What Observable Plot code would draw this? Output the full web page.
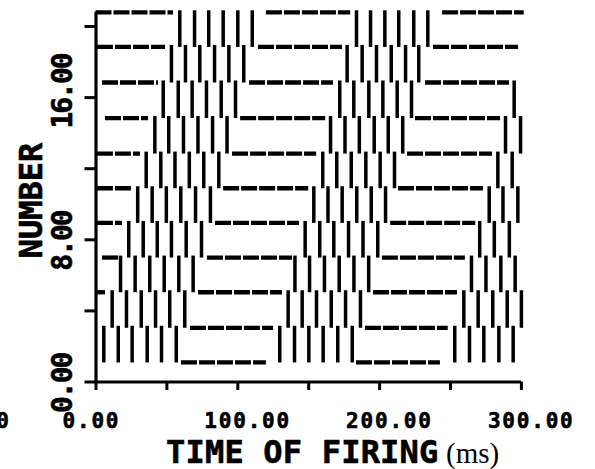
<!DOCTYPE html>
<html><head><meta charset="utf-8">
<script src="https://cdn.jsdelivr.net/npm/d3@7"></script>
<script src="https://cdn.jsdelivr.net/npm/@observablehq/plot@0.6"></script>
<style>
html,body{margin:0;padding:0;background:#fff;}
svg{overflow:visible}
</style></head><body><div id="chart"></div>
<script>
// level values (y) of the 11 horizontal baselines, top to bottom
const levels = [20.8, 18.85, 16.85, 14.85, 12.85, 10.9, 8.95, 7.0, 5.05, 3.05, 1.1];

// spike times (ms) per row, top row first
const spikesRow1 = [59.1, 69.5, 79.5, 89.7, 100, 110.2, 183.7, 193.6, 203.7, 213.5, 224.1, 234];
const spikesRow2 = [53.2, 63.1, 73.2, 83.6, 93.7, 104.2, 177.1, 187.7, 197.8, 208.2, 218.3, 227.6];
const spikesRow3 = [47.4, 58, 67.8, 77.9, 88.3, 98.4, 171.9, 181.8, 192.4, 202.3, 212.4, 222.5, 294.9];
const spikesRow4 = [41.5, 51.3, 61.7, 71.9, 82.2, 92.4, 165.4, 175.6, 185.7, 196.2, 206.1, 216.3, 288.8, 299.4];
const spikesRow5 = [35.4, 45.7, 55.7, 65.8, 76, 86.6, 159.9, 169.8, 180, 190.3, 200.4, 210.5, 283.4, 293.5];
const spikesRow6 = [29.4, 39.6, 49.6, 59.8, 70.2, 80.7, 153.6, 163.6, 173.6, 183.9, 194.1, 204.2, 277.3, 287, 297.5];
const spikesRow7 = [23.1, 33.3, 43.2, 53.2, 63.6, 74.4, 147.5, 157.8, 167.7, 178.1, 188.3, 198.7, 270.6, 280.9, 291.5];
const spikesRow8 = [17.3, 27.6, 37.9, 48.1, 58.4, 68.5, 140.3, 150.6, 161.1, 171.5, 181.9, 192.3, 264.8, 275, 285.5, 295.6];
const spikesRow9 = [11.4, 21.5, 31.9, 42, 52, 62.6, 135.5, 145.4, 155.5, 165.9, 176, 186.5, 259.4, 269.5, 279.8, 290, 300];
const spikesRow10 = [5.5, 15.7, 25.5, 36.1, 46.2, 56.6, 129.6, 140, 150.1, 160.2, 170.5, 180.7, 253, 263.4, 273.5, 284.1, 294.2];

// horizontal dashed segments [start, end] (ms) on each level, top level first
const silentL0 = [[0, 54.7], [120.2, 179.6], [244.4, 302]];
const silentL1 = [[1, 49], [114.6, 173.8], [238, 298]];
const silentL2 = [[4.6, 44], [108.3, 167.5], [232.4, 291.6]];
const silentL3 = [[6.7, 37], [102, 162], [225.3, 285.3]];
const silentL4 = [[1, 31.4], [96.3, 155.6], [219.7, 279.6]];
const silentL5 = [[1, 25.7], [90, 150], [213.3, 273.3]];
const silentL6 = [[1, 18.7], [84.3, 143.5], [207.8, 267.8]];
const silentL7 = [[4.6, 15.9], [78.6, 138.6], [202, 260.5]];
const silentL8 = [[1, 6.7], [72.3, 131.5], [195.7, 254.9]];
const silentL9 = [[66.6, 125.2], [190, 248.4]];
const silentL10 = [[60.3, 120.2], [183.7, 242.9]];

// axes
const xTicks = [0, 50, 100, 150, 200, 250, 300];
const yTicks = [0, 4, 8, 12, 16, 20];
const xLabelValues = [0, 100, 200, 300];
const xLabelTexts = ["0.00", "100.00", "200.00", "300.00"];
const yLabelValues = [0, 8, 16];
const yLabelTexts = ["0.00", "8.00", "16.00"];
const xTitle = "TIME OF FIRING";
const xUnit = "(ms)";
const yTitle = "NUMBER";

const rows = [spikesRow1, spikesRow2, spikesRow3, spikesRow4, spikesRow5, spikesRow6, spikesRow7, spikesRow8, spikesRow9, spikesRow10];
const silences = [silentL0, silentL1, silentL2, silentL3, silentL4, silentL5, silentL6, silentL7, silentL8, silentL9, silentL10];

const spikeData = rows.flatMap((times, r) => times.map(t => ({t, lo: levels[r + 1], hi: levels[r]})));
const dashData = silences.flatMap((segs, k) => segs.map(([a, b]) => ({a, b, y: levels[k]})));

const mono = "'DejaVu Sans Mono', monospace";
const W = 595, H = 469, mL = 95.5, mR = 74.1, mT = 26, mB = 87.5;
const frameW = W - mL - mR, frameH = H - mT - mB;
const bold = {fontFamily: mono, fontWeight: "bold", fill: "black", stroke: "black", strokeWidth: 0.6};

const chart = Plot.plot({
  width: W, height: H,
  marginLeft: mL, marginRight: mR, marginTop: mT, marginBottom: mB,
  x: {domain: [0, 300], axis: null},
  y: {domain: [0, 20], axis: null},
  style: {background: "white", color: "black", overflow: "visible"},
  marks: [
    Plot.ruleX(spikeData, {x: "t", y1: "lo", y2: "hi", stroke: "black", strokeWidth: 3.5, insetTop: 0.5, insetBottom: 1.5}),
    Plot.ruleY(dashData, {y: "y", x1: "a", x2: "b", stroke: "black", strokeWidth: 4.3, strokeDasharray: "16,2"}),
    Plot.ruleX([0], {y1: 0, y2: levels[0], stroke: "black", strokeWidth: 3.2}),
    Plot.ruleY([0], {x1: 0, x2: 300, stroke: "black", strokeWidth: 3.2}),
    // tick marks outside the frame
    Plot.ruleX(xTicks, {x: d => d, insetTop: frameH - 8.5, dy: 8.5, stroke: "black", strokeWidth: 3}),
    Plot.ruleY(yTicks, {y: d => d, insetRight: frameW - 11, dx: -11, stroke: "black", strokeWidth: 3}),
    Plot.text(xLabelValues, {x: d => d, frameAnchor: "bottom", dx: -33.5, dy: 45.5, text: (d, i) => xLabelTexts[i],
      textAnchor: "start", lineAnchor: "bottom", fontSize: 21, ...bold}),
    Plot.text(yLabelValues, {y: d => d, frameAnchor: "left", dx: -24, dy: 31, rotate: -90, text: (d, i) => yLabelTexts[i],
      textAnchor: "start", lineAnchor: "bottom", fontSize: 28, ...bold}),
    Plot.text([yTitle], {frameAnchor: "left", dx: -54, dy: -3.75, rotate: -90, text: d => d,
      textAnchor: "middle", lineAnchor: "bottom", fontSize: 32, ...bold}),
    Plot.text([xTitle], {frameAnchor: "bottom-left", dx: 70, dy: 80.5, text: d => d,
      textAnchor: "start", lineAnchor: "bottom", fontSize: 32, ...bold}),
    Plot.text([xUnit], {frameAnchor: "bottom-left", dx: 350, dy: 81, text: d => d,
      textAnchor: "start", lineAnchor: "bottom", fontFamily: "'Liberation Serif', serif", fontSize: 29, fill: "black"}),
    Plot.text(["0"], {frameAnchor: "bottom-left", dx: -87, dy: 45.5, text: d => d,
      textAnchor: "end", lineAnchor: "bottom", fontSize: 21, ...bold})
  ]
});
// letter spacing adjustments for the plotter-style lettering
const sel = d3.select(chart).selectAll("text");
sel.filter(function () { return xLabelTexts.includes(this.textContent) && +this.getAttribute("font-size") !== 28; })
  .style("letter-spacing", "1.8px");
sel.filter(function () { return this.getAttribute("transform") && this.getAttribute("transform").includes("rotate") && yLabelTexts.includes(this.textContent); })
  .style("letter-spacing", "-2px");
sel.filter(function () { return this.textContent === xTitle; }).style("letter-spacing", "0.2px");
document.getElementById("chart").appendChild(chart);
</script>
</body></html>
